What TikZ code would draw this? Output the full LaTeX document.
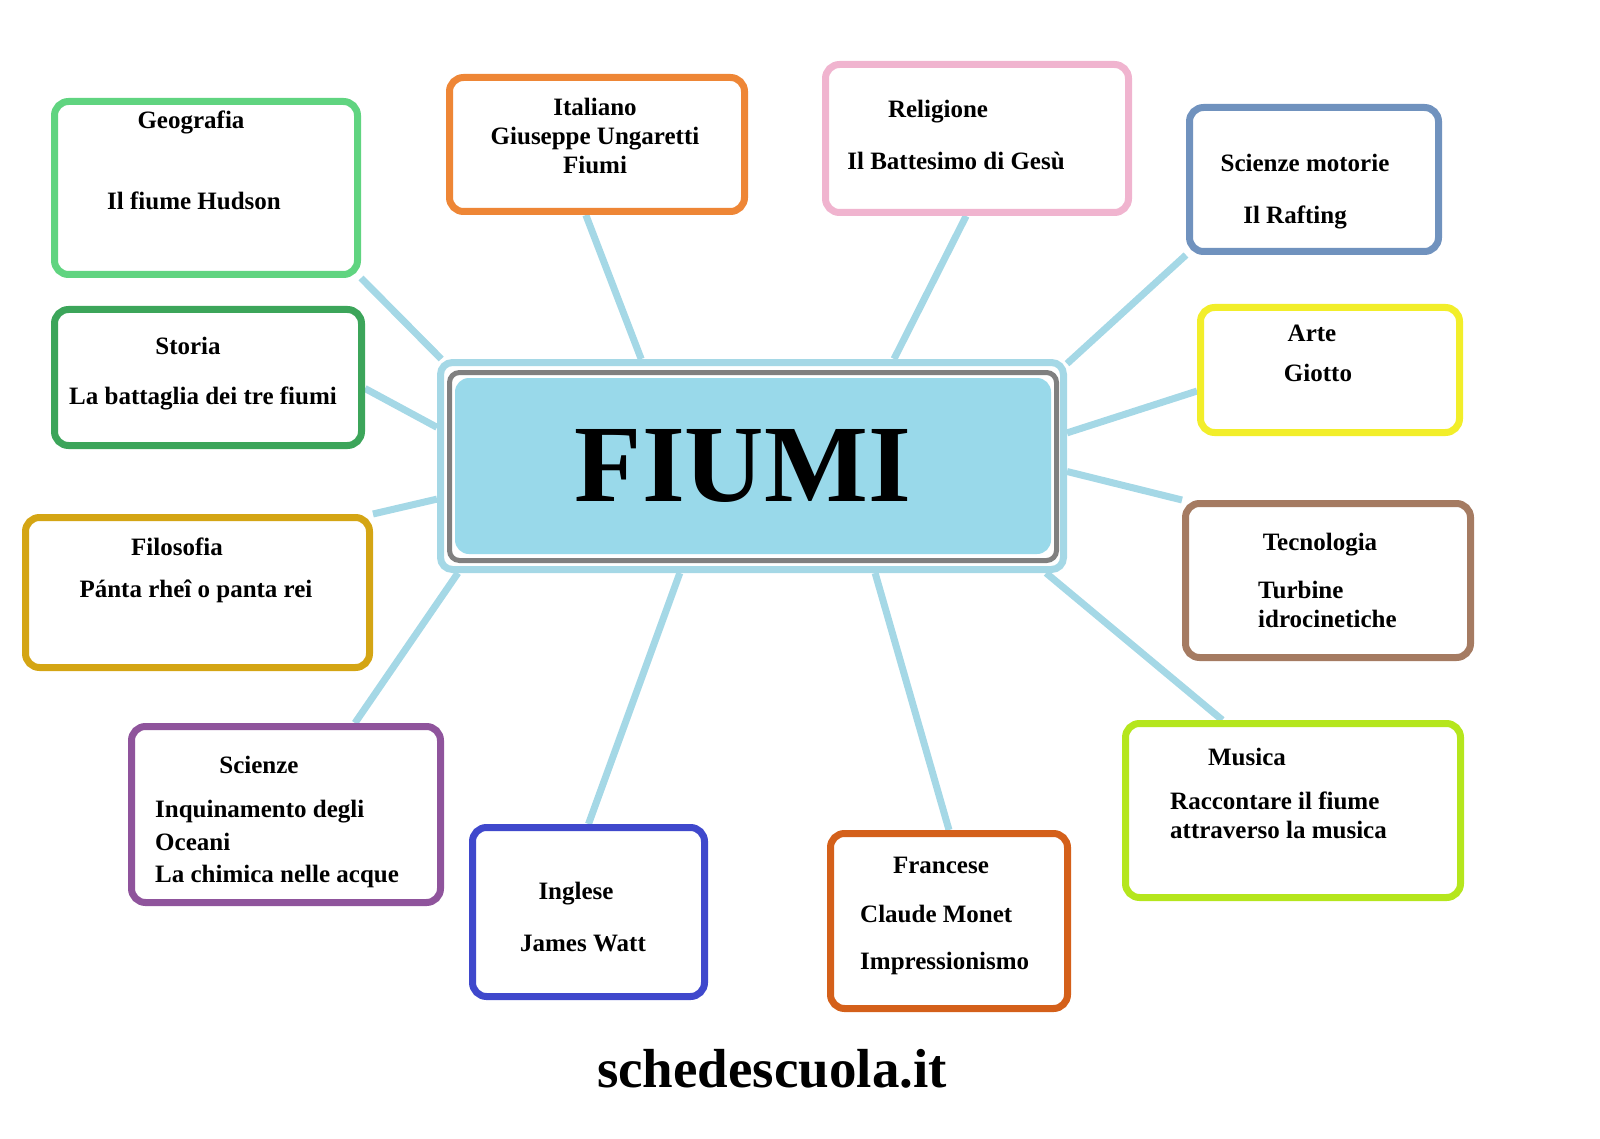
\documentclass[tikz,border=0pt]{standalone}
\usepackage{fontspec}
\setmainfont{Liberation Serif}
\usetikzlibrary{backgrounds}

\definecolor{linkcol}{HTML}{A5D8E6}
\definecolor{hubcol}{HTML}{99D9EA}
\definecolor{geocol}{HTML}{60D480}
\definecolor{storcol}{HTML}{3CA55A}
\definecolor{filocol}{HTML}{D4A514}
\definecolor{scicol}{HTML}{8F549C}
\definecolor{inglcol}{HTML}{3F48CC}
\definecolor{frcol}{HTML}{D4601A}
\definecolor{muscol}{HTML}{B5E61D}
\definecolor{teccol}{HTML}{A57B62}
\definecolor{artecol}{HTML}{F2EE2A}
\definecolor{motcol}{HTML}{7092BE}
\definecolor{relcol}{HTML}{F0B4CF}
\definecolor{itacol}{HTML}{EE8636}

\tikzset{
  materia/.style={draw=#1, fill=white, line width=7pt, rounded corners=14pt,
    inner sep=0pt},
  testo/.style={font=\fontsize{25}{29}\selectfont\bfseries, inner sep=0pt},
  link/.style={draw=linkcol, line width=7pt},
}

\begin{document}
\begin{tikzpicture}[x=1pt,y=-1pt]
    \useasboundingbox (0,0) rectangle (1600,1139);
    % Centro
    \node[draw=linkcol, fill=white, line width=7pt, rounded corners=12pt,
        minimum width=623, minimum height=207] (hub) at (752,466) {};
    \node[draw=gray, line width=5pt, rounded corners=10pt,
        minimum width=607, minimum height=188] (hubframe) at (753,466.5) {};
    \node[fill=hubcol, rounded corners=14pt, minimum width=596,
        minimum height=176, font=\fontsize{110}{110}\selectfont\bfseries]
        (hubin) at (753,466) {\hspace*{-20pt}FIUMI};
    % Materie
    \node[materia=geocol, minimum width=303, minimum height=173] (geo) at (206,188) {};
    \node[materia=storcol, minimum width=307, minimum height=136] (stor) at (208,377.5) {};
    \node[materia=filocol, minimum width=344, minimum height=150] (filo) at (197.5,592.5) {};
    \node[materia=scicol, minimum width=309, minimum height=176] (sci) at (286,814.5) {};
    \node[materia=inglcol, minimum width=232, minimum height=169] (ingl) at (588.5,912) {};
    \node[materia=frcol, minimum width=237, minimum height=175] (fran) at (949,921) {};
    \node[materia=muscol, minimum width=335, minimum height=174] (mus) at (1293,810.5) {};
    \node[materia=teccol, minimum width=285, minimum height=154] (tec) at (1328,580.5) {};
    \node[materia=artecol, minimum width=259, minimum height=125] (arte) at (1330,370) {};
    \node[materia=motcol, minimum width=249, minimum height=144] (mot) at (1314,179.5) {};
    \node[materia=relcol, minimum width=303, minimum height=148] (rel) at (977,138.5) {};
    \node[materia=itacol, minimum width=295, minimum height=134] (ita) at (597,144.5) {};
    % Collegamenti
    \begin{pgfonlayer}{background}
    \foreach \m/\a in {geo.south east/161, stor.-4/173, filo.north east/186,
        sci.53/200, ingl.north/236, fran.north/319, mus.128/340,
        tec.north west/359, arte.189/6, mot.south west/18, rel.262/37, ita.261/136}
    \draw[link] (\m) -- (hub.\a);
    \end{pgfonlayer}
    % Testi
    \node[testo] (geo1) at (191,122) {Geografia};
    \node[testo] (geo2) at (194,201) {Il fiume Hudson};
    \node[testo] (stor1) at (188,346) {Storia};
    \node[testo] (stor2) at (203,398) {La battaglia dei tre fiumi};
    \node[testo] (filo1) at (177,547) {Filosofia};
    \node[testo] (filo2) at (196,591) {Pánta rheî o panta rei};
    \node[testo] (sci1) at (259,765) {Scienze};
    \node[testo, anchor=north west, align=left] (sci2) at (155,800)
        {Inquinamento degli\\[4pt] Oceani\\[3pt] La chimica nelle acque};
    \node[testo] (ingl1) at (576,894) {Inglese};
    \node[testo] (ingl2) at (583,943) {James Watt};
    \node[testo] (fran1) at (941,865) {Francese};
    \node[testo, anchor=west] (fran2) at (860,914) {Claude Monet};
    \node[testo, anchor=west] (fran3) at (860,963) {Impressionismo};
    \node[testo] (mus1) at (1247,757) {Musica};
    \node[testo, anchor=north west, align=left] (mus2) at (1170,792)
        {Raccontare il fiume\\ attraverso la musica};
    \node[testo] (tec1) at (1320,545) {Tecnologia};
    \node[testo, anchor=north west, align=left] (tec2) at (1258,581)
        {Turbine\\ idrocinetiche};
    \node[testo] (arte1) at (1312,333) {Arte};
    \node[testo] (arte2) at (1318,373) {Giotto};
    \node[testo] (mot1) at (1305,163) {Scienze motorie};
    \node[testo] (mot2) at (1295,217) {Il Rafting};
    \node[testo] (rel1) at (938,112) {Religione};
    \node[testo] (rel2) at (956,161) {Il Battesimo di Gesù};
    \node[testo, align=center] (ita1) at (595,136)
        {Italiano\\ Giuseppe Ungaretti\\ Fiumi};
    % Sito
    \node[font=\fontsize{55}{55}\selectfont\bfseries] (sito) at (772,1069)
        {schedescuola.it};
\end{tikzpicture}
\end{document}
